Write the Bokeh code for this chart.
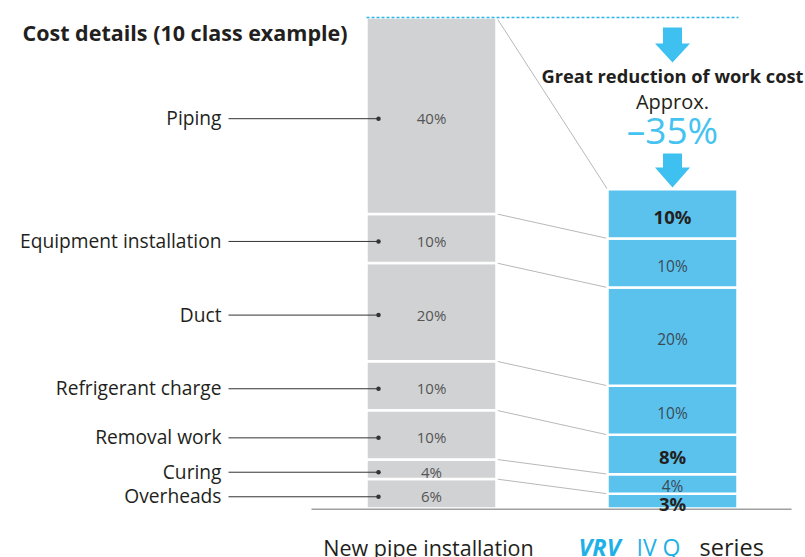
import numpy as np
from bokeh.plotting import figure
from bokeh.models import Range1d
from bokeh.core.properties import value
from bokeh.embed import file_html
from bokeh.resources import INLINE

# ---- data ----
categories = ["Overheads", "Curing", "Removal work", "Refrigerant charge",
              "Duct", "Equipment installation", "Piping"]
new_pipe = [6, 4, 10, 10, 20, 10, 40]      # % of cost, new pipe installation
vrv_q = [3, 4, 8, 10, 20, 10, 10]          # % of cost, VRV IV Q series
title_text = "Cost details (10 class example)"
reduction_title = "Great reduction of work cost"
reduction_approx = "Approx."
reduction_label = "\u201335%"
left_name = "New pipe installation"

# ---- layout constants ----
W, H = 805, 557
PX = 4.91          # pixels per percent
BASE = 508         # screen y of 0 %
FONT = "Open Sans"
GRAY = "#D1D2D4"
BLUE = "#5BC2EE"
CYAN = "#3EC1F0"
DARK = "#231F20"
XL, XR, BW = 431, 672, 130


def sy(y):
    return (BASE - y) / PX


p = figure(width=W, height=H, output_backend="svg", toolbar_location=None,
           x_range=Range1d(0, W), y_range=Range1d(sy(H), sy(0)),
           min_border=0, x_axis_location=None, y_axis_location=None)
p.grid.visible = False
p.outline_line_color = None

np_vals = np.array(new_pipe, dtype=float)
vq_vals = np.array(vrv_q, dtype=float)
np_top = np.cumsum(np_vals)
np_bot = np_top - np_vals
vq_top = np.cumsum(vq_vals)
vq_bot = vq_top - vq_vals
np_mid = (np_top + np_bot) / 2
vq_mid = (vq_top + vq_bot) / 2


def down(y, px):
    """shift data y downward by px screen pixels"""
    return list(np.asarray(y) - px / PX)


# connecting lines
p.segment(x0=XL + BW / 2, y0=np_top, x1=XR - BW / 2, y1=vq_top,
          line_color="#B8B8B8", line_width=1)

# bars
p.vbar(x=XL, bottom=np_bot, top=np_top, width=BW, fill_color=GRAY,
       line_color="white", line_width=2.5)
p.vbar(x=XR, bottom=vq_bot, top=vq_top, width=BW, fill_color=BLUE,
       line_color="white", line_width=2.5)

# baseline
p.segment(x0=[311], y0=[-0.15], x1=[791], y1=[-0.15], line_color="#A0A0A0", line_width=1.5)

# top dashed line
p.segment(x0=[XL - BW / 2], y0=[np_top[-1]], x1=[XR + BW / 2 + 1], y1=[np_top[-1]],
          line_color="#29B5E8", line_width=1.5, line_dash="3 2")

# percent labels, left bar
p.text(x=[XL] * len(new_pipe), y=down(np_mid, 2.5), text=[f"{v}%" for v in new_pipe],
       text_font=value(FONT), text_font_size="15px", text_color="#555555",
       text_align="center", text_baseline="middle")

# percent labels, right bar (bold where reduced)
red = [i for i in range(len(vrv_q)) if vrv_q[i] < new_pipe[i]]
same = [i for i in range(len(vrv_q)) if vrv_q[i] >= new_pipe[i]]
p.text(x=[XR] * len(same), y=down([vq_mid[i] for i in same], 2.5),
       text=[f"{vrv_q[i]}%" for i in same],
       text_font=value(FONT), text_font_size="15.5px", text_color="#3A4A55",
       text_align="center", text_baseline="middle")
p.text(x=[XR] * len(red), y=down([vq_mid[i] for i in red], 2.5),
       text=[f"{vrv_q[i]}%" for i in red],
       text_font=value(FONT), text_font_size="18.5px", text_font_style="bold",
       text_color=DARK, text_align="center", text_baseline="middle")

# category labels with leader lines
lead_y = down(np_mid, 3)
p.text(x=[221] * len(categories), y=down(np_mid, 2), text=categories,
       text_font=value(FONT), text_font_size="19.2px", text_color=DARK,
       text_align="right", text_baseline="middle")
p.segment(x0=[228] * len(categories), y0=lead_y, x1=[378] * len(categories),
          y1=lead_y, line_color="#333333", line_width=1)
p.scatter(x=[378] * len(categories), y=lead_y, size=4.5,
          fill_color="#333333", line_color=None)


def arrow(cx, top, head, tip):
    xs = [cx - 9.5, cx + 9.5, cx + 9.5, cx + 17.5, cx, cx - 17.5, cx - 9.5]
    ys = [top, top, head, head, tip, head, head]
    p.patch(x=xs, y=[sy(v) for v in ys], fill_color=CYAN, line_color=None)


arrow(XR, 27, 43, 62)
arrow(XR, 153, 167, 187)

# title and reduction texts
p.text(x=[22], y=[sy(32)], text=[title_text], text_font=value(FONT),
       text_font_size="21.5px", text_font_style="bold", text_color=DARK,
       text_align="left", text_baseline="middle")
p.text(x=[XR], y=[sy(74.5)], text=[reduction_title], text_font=value(FONT),
       text_font_size="18.3px", text_font_style="bold", text_color=DARK,
       text_align="center", text_baseline="middle")
p.text(x=[XR], y=[sy(100.5)], text=[reduction_approx], text_font=value(FONT),
       text_font_size="20px", text_color=DARK,
       text_align="center", text_baseline="middle")
p.text(x=[XR], y=[sy(129)], text=[reduction_label], text_font=value(FONT),
       text_font_size="37px", text_color="#45C3F0",
       text_align="center", text_baseline="middle")

# bar names
p.text(x=[428], y=[sy(546.5)], text=[left_name], text_font=value(FONT),
       text_font_size="21.5px", text_color=DARK,
       text_align="center", text_baseline="middle")
p.text(x=[578], y=[sy(546.5)], text=["VRV"], text_font=value(FONT),
       text_font_size="23.5px", text_font_style="bold italic", text_color="#1FB1E6",
       text_align="left", text_baseline="middle")
p.text(x=[636], y=[sy(546.5)], text=["IV Q"], text_font=value(FONT),
       text_font_size="23px", text_color="#1FB1E6",
       text_align="left", text_baseline="middle")
p.text(x=[699], y=[sy(546.5)], text=["series"], text_font=value(FONT),
       text_font_size="23.5px", text_color=DARK,
       text_align="left", text_baseline="middle")

open("out.html", "w").write(file_html(p, INLINE))
